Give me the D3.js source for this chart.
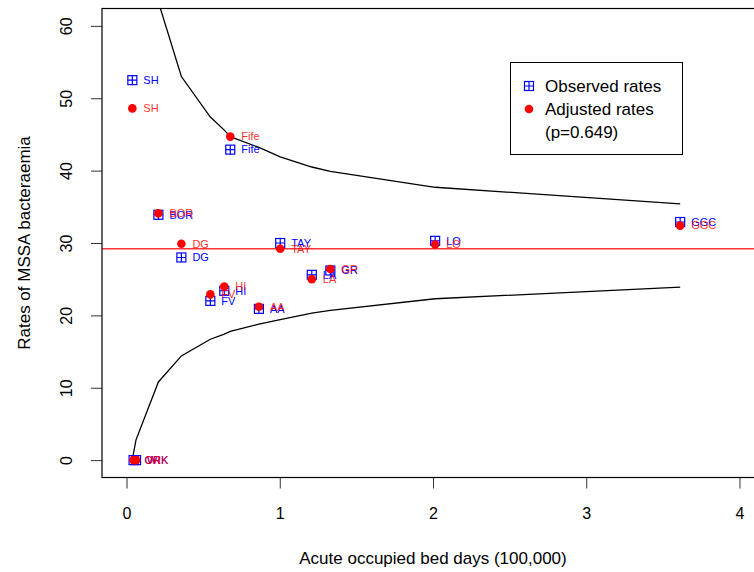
<!DOCTYPE html>
<html>
<head>
<meta charset="utf-8">
<script src="https://cdn.jsdelivr.net/npm/d3@7"></script>
<style>
  body { margin: 0; background: #fff; }
  svg { font-family: "Liberation Sans", Arial, sans-serif; display: block; }
</style>
</head>
<body>
<div id="chart"></div>
<script>
// health boards, x = acute occupied bed days (100,000)
const boards = ["SH", "ORK", "WI", "BOR", "DG", "FV", "HI", "Fife", "AA", "TAY", "LA", "GR", "LO", "GGC"];
const bedDays = [0.038, 0.046, 0.062, 0.208, 0.358, 0.547, 0.638, 0.677, 0.864, 1.003, 1.209, 1.33, 2.014, 3.613];
const observed = [52.5, 0, 0, 33.9, 28.0, 22.0, 23.4, 42.9, 20.9, 30.0, 25.6, 26.2, 30.3, 32.9];
const adjusted = [48.6, 0, 0, 34.1, 29.9, 22.9, 24.0, 44.7, 21.2, 29.2, 25.0, 26.4, 29.8, 32.4];

// funnel limits at each board's bed days
const upperLimit = [140, 125, 110, 63.3, 53.0, 47.4, 45.6, 44.7, 43.2, 41.9, 40.5, 39.9, 37.7, 35.4];
const lowerLimit = [0, 1.0, 2.8, 10.8, 14.4, 16.7, 17.4, 17.8, 18.8, 19.4, 20.3, 20.7, 22.3, 23.9];

const overallRate = 29.2;
const xTicks = [0, 1, 2, 3, 4];
const yTicks = [0, 10, 20, 30, 40, 50, 60];
const legendLabels = ["Observed rates", "Adjusted rates", "(p=0.649)"];

const W = 754, H = 572;
const PLOT = { LEFT: 102, TOP: 8.5, RIGHT: 764, BOTTOM: 477.5 };

const svg = d3.select("#chart").append("svg")
  .attr("width", W)
  .attr("height", H);

const x = d3.scaleLinear().domain([-0.16, 4.16]).range([PLOT.LEFT, PLOT.RIGHT]);
const y = d3.scaleLinear().domain([-2.4, 62.4]).range([PLOT.BOTTOM, PLOT.TOP]);

svg.append("clipPath").attr("id", "clip")
  .append("rect")
  .attr("x", PLOT.LEFT).attr("y", PLOT.TOP)
  .attr("width", PLOT.RIGHT - PLOT.LEFT).attr("height", PLOT.BOTTOM - PLOT.TOP);

// axes
const xAxis = svg.append("g")
  .attr("transform", `translate(0, ${PLOT.BOTTOM})`)
  .call(d3.axisBottom(x).tickValues(xTicks).tickSize(11).tickFormat(d3.format("d")));
xAxis.select(".domain").remove();
xAxis.selectAll("line").attr("stroke", "#333");
xAxis.selectAll("text")
  .attr("y", 36).attr("dy", "0.35em")
  .attr("font-size", 16).attr("fill", "#000")
  .attr("font-family", "Liberation Sans, Arial, sans-serif");

const yAxis = svg.append("g")
  .attr("transform", `translate(${PLOT.LEFT}, 0)`)
  .call(d3.axisLeft(y).tickValues(yTicks).tickSize(11));
yAxis.select(".domain").remove();
yAxis.selectAll("line").attr("stroke", "#333");
yAxis.selectAll("text")
  .attr("x", 0).attr("y", -36).attr("dy", "0.35em")
  .attr("transform", "rotate(-90)")
  .attr("text-anchor", "middle")
  .attr("font-size", 16).attr("fill", "#000")
  .attr("font-family", "Liberation Sans, Arial, sans-serif");

svg.append("text")
  .attr("x", (PLOT.LEFT + PLOT.RIGHT) / 2)
  .attr("y", 564)
  .attr("text-anchor", "middle")
  .attr("font-size", 17)
  .text("Acute occupied bed days (100,000)");

svg.append("text")
  .attr("transform", `translate(30, ${(PLOT.TOP + PLOT.BOTTOM) / 2}) rotate(-90)`)
  .attr("text-anchor", "middle")
  .attr("font-size", 17)
  .text("Rates of MSSA bacteraemia");

const plot = svg.append("g").attr("clip-path", "url(#clip)");

// funnel limits
const idx = d3.range(boards.length);
const line = d3.line().x(i => x(bedDays[i]));
plot.append("path")
  .attr("d", line.y(i => y(upperLimit[i]))(idx))
  .attr("fill", "none").attr("stroke", "#000").attr("stroke-width", 1.3);
plot.append("path")
  .attr("d", line.y(i => y(lowerLimit[i]))(idx))
  .attr("fill", "none").attr("stroke", "#000").attr("stroke-width", 1.3);

// overall rate
plot.append("line")
  .attr("x1", PLOT.LEFT).attr("x2", PLOT.RIGHT)
  .attr("y1", y(overallRate)).attr("y2", y(overallRate))
  .attr("stroke", "#f33").attr("stroke-width", 1.5);

// observed: square with plus
function squarePlus(g, cx, cy, s) {
  g.append("rect")
    .attr("x", cx - s / 2).attr("y", cy - s / 2)
    .attr("width", s).attr("height", s)
    .attr("fill", "none").attr("stroke", "#00f").attr("stroke-width", 1.2);
  g.append("path")
    .attr("d", `M${cx - s / 2},${cy}H${cx + s / 2}M${cx},${cy - s / 2}V${cy + s / 2}`)
    .attr("stroke", "#00f").attr("stroke-width", 1.2);
}

const obsG = plot.append("g");
idx.forEach(i => squarePlus(obsG, x(bedDays[i]), y(observed[i]), 9));
plot.append("g").selectAll("text")
  .data(idx).join("text")
  .attr("x", i => x(bedDays[i]) + 11)
  .attr("y", i => y(observed[i]))
  .attr("dy", "0.35em")
  .attr("font-size", 11)
  .attr("fill", "#00f")
  .text(i => boards[i]);

plot.append("g").selectAll("circle")
  .data(idx).join("circle")
  .attr("cx", i => x(bedDays[i]))
  .attr("cy", i => y(adjusted[i]))
  .attr("r", 4.3)
  .attr("fill", "#f00");
plot.append("g").selectAll("text")
  .data(idx).join("text")
  .attr("x", i => x(bedDays[i]) + 11)
  .attr("y", i => y(adjusted[i]))
  .attr("dy", "0.35em")
  .attr("font-size", 11)
  .attr("fill", "#f00")
  .attr("fill-opacity", 0.85)
  .text(i => boards[i]);

// box
svg.append("rect")
  .attr("x", PLOT.LEFT).attr("y", PLOT.TOP)
  .attr("width", PLOT.RIGHT - PLOT.LEFT).attr("height", PLOT.BOTTOM - PLOT.TOP)
  .attr("fill", "none").attr("stroke", "#000").attr("stroke-width", 1.2);

// legend
const lg = svg.append("g").attr("transform", "translate(510.5, 62.5)");
lg.append("rect")
  .attr("width", 172).attr("height", 92)
  .attr("fill", "#fff").attr("stroke", "#000").attr("stroke-width", 1);
squarePlus(lg, 18.5, 23.5, 9);
lg.append("circle").attr("cx", 18.5).attr("cy", 46.5).attr("r", 4.3).attr("fill", "#f00");
lg.selectAll("text.lab")
  .data(legendLabels).join("text")
  .attr("class", "lab")
  .attr("x", 34.5)
  .attr("y", (d, i) => 23.5 + i * 23)
  .attr("dy", "0.35em")
  .attr("font-size", 17)
  .text(d => d);
</script>
</body>
</html>
